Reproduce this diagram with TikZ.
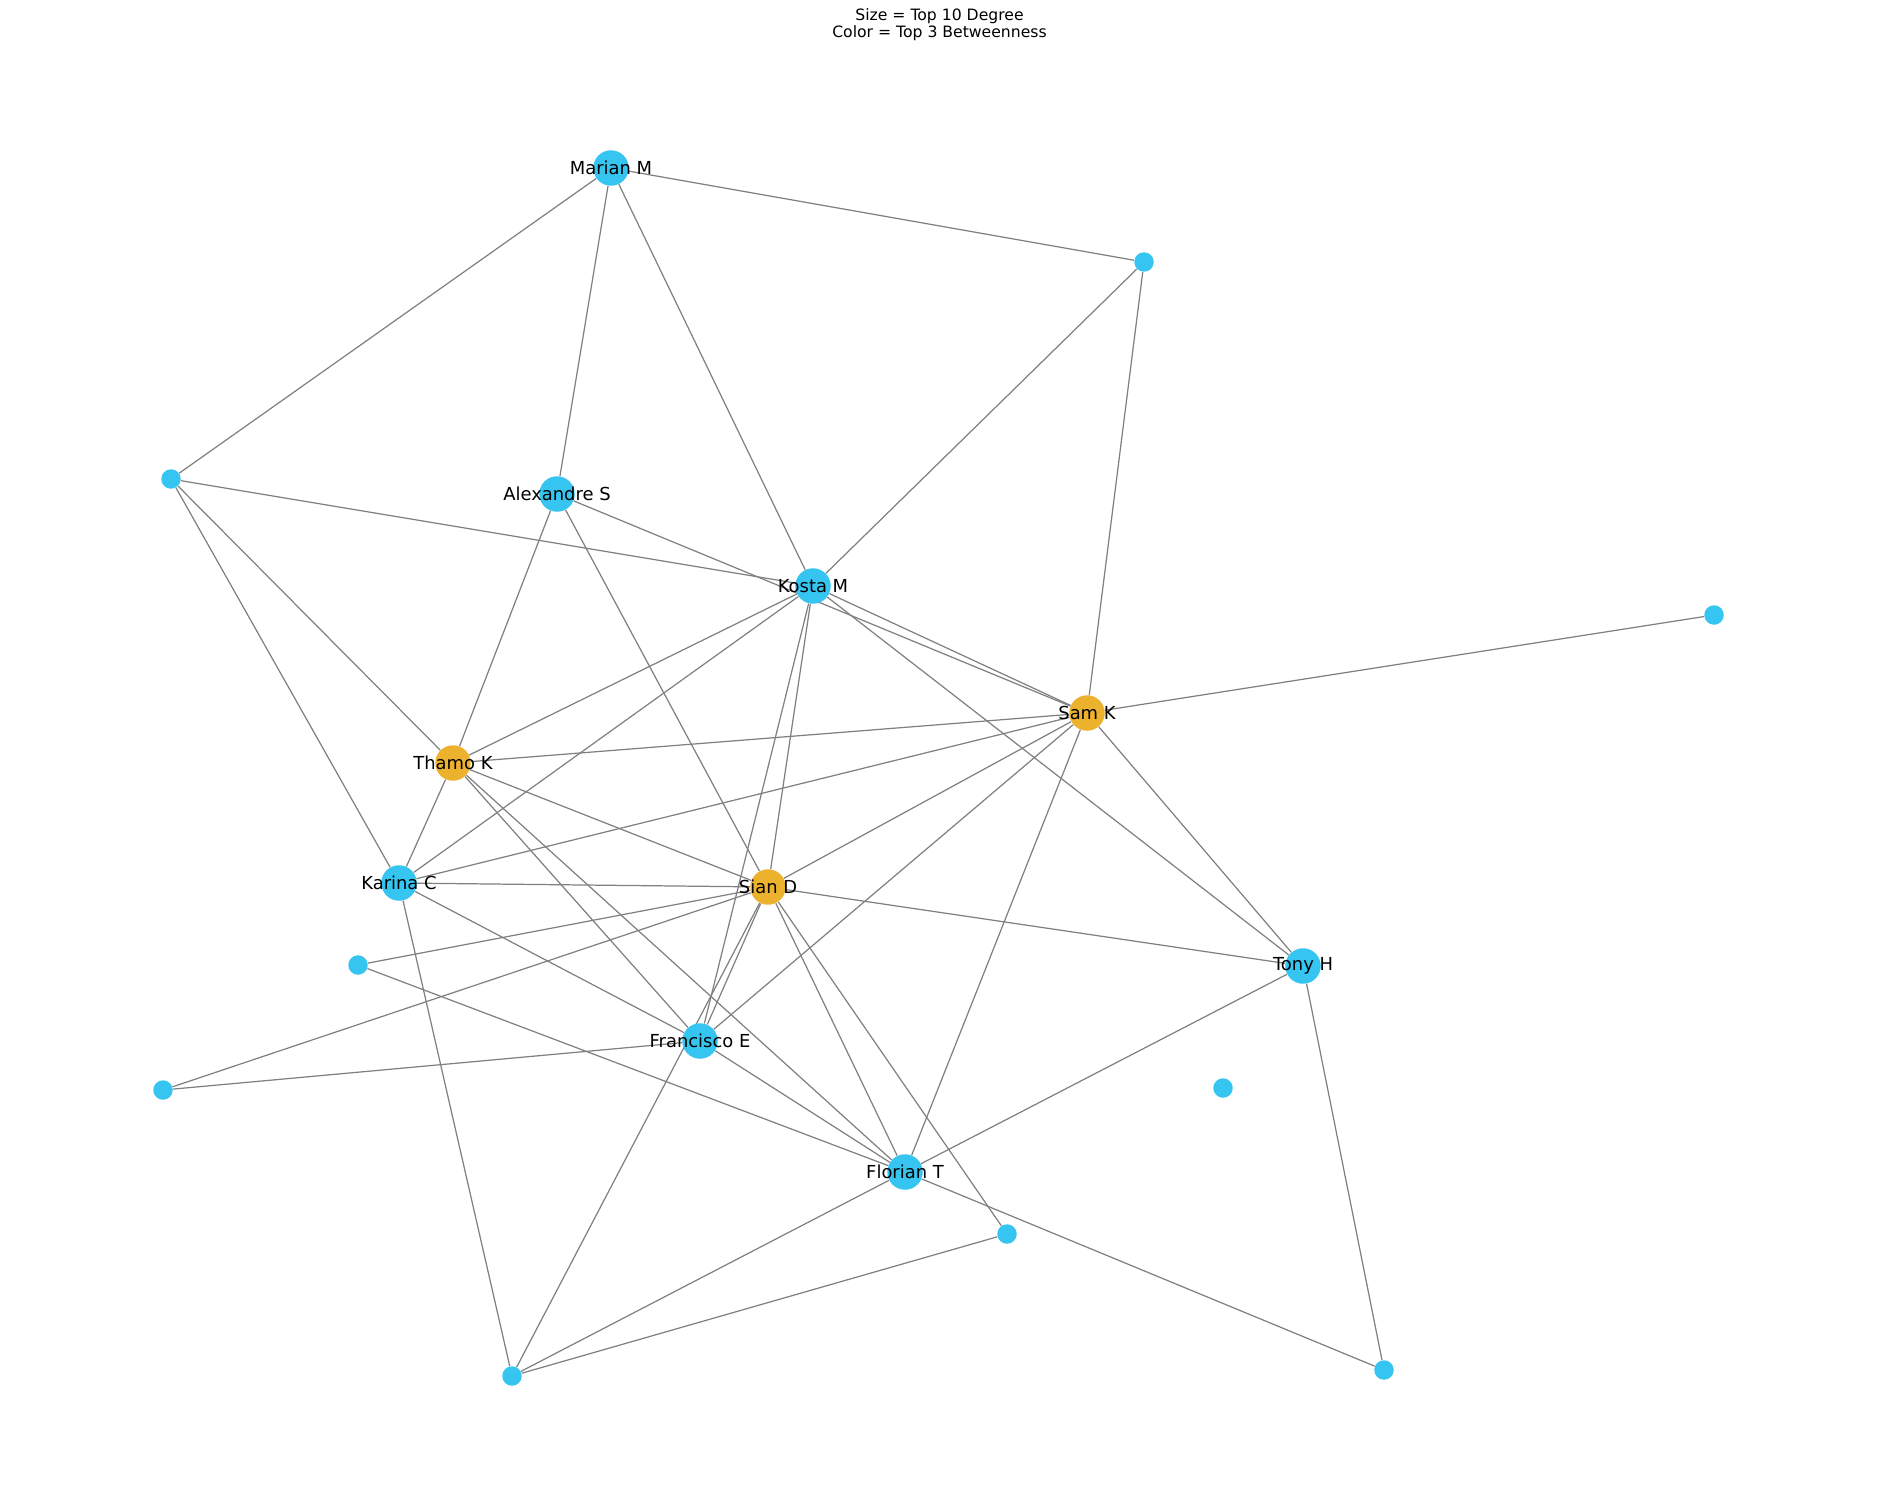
\documentclass[tikz,border=0pt]{standalone}
\usepackage{fontspec}
\setmainfont{DejaVu Sans}
\usetikzlibrary{backgrounds}

\definecolor{nblue}{HTML}{36C5F0}
\definecolor{norange}{HTML}{ECB22E}

\begin{document}
\begin{tikzpicture}[x=0.02cm,y=-0.02cm]
  \tikzstyle{N}=[circle,fill=nblue,inner sep=0pt,minimum size=0.39cm]
  \tikzstyle{B}=[circle,fill=nblue,inner sep=0pt,minimum size=0.71cm]
  \tikzstyle{E}=[draw=gray,line width=0.7pt]
  \tikzstyle{every label}=[font=\fontsize{10.2}{12}\selectfont,inner sep=0pt]
  \useasboundingbox (0,0) rectangle (1879,1507);

  \node[align=center,font=\fontsize{8.9}{9.6}\selectfont] (T) at (939.5,25)
    {Size = Top 10 Degree\\Color = Top 3 Betweenness};

  % top 10 degree
  \node[B] (MM) at (611,168) [label=center:Marian M] {};
  \node[B] (AS) at (557,494) [label=center:Alexandre S] {};
  \node[B] (KM) at (813,586) [label=center:Kosta M] {};
  \node[B,fill=norange] (SK) at (1087,713) [label=center:Sam K] {};
  \node[B,fill=norange] (TK) at (453,763) [label=center:Thamo K] {};
  \node[B] (KC) at (399,883) [label=center:Karina C] {};
  \node[B,fill=norange] (SD) at (768,887) [label=center:Sian D] {};
  \node[B] (TH) at (1303,966) [label=center:Tony H] {};
  \node[B] (FE) at (700,1041) [label=center:Francisco E] {};
  \node[B] (FT) at (905,1172) [label=center:Florian T] {};
  % the rest
  \node[N] (S1) at (1144,262) {};
  \node[N] (S2) at (171,479) {};
  \node[N] (S3) at (1714,615) {};
  \node[N] (S4) at (358,965) {};
  \node[N] (S5) at (163,1090) {};
  \node[N] (S6) at (1223,1088) {};
  \node[N] (S7) at (1007,1234) {};
  \node[N] (S8) at (512,1376) {};
  \node[N] (S9) at (1384,1370) {};

  \begin{pgfonlayer}{background}
  \draw[E] (MM) -- (S1);
  \draw[E] (MM) -- (S2);
  \draw[E] (MM) -- (AS);
  \draw[E] (MM) -- (KM);
  \draw[E] (S1) -- (KM);
  \draw[E] (S1) -- (SK);
  \draw[E] (S2) -- (KM);
  \draw[E] (S2) -- (TK);
  \draw[E] (S2) -- (KC);
  \draw[E] (AS) -- (TK);
  \draw[E] (AS) -- (SK);
  \draw[E] (AS) -- (SD);
  \draw[E] (KM) -- (SK);
  \draw[E] (KM) -- (TK);
  \draw[E] (KM) -- (KC);
  \draw[E] (KM) -- (FE);
  \draw[E] (KM) -- (SD);
  \draw[E] (KM) -- (TH);
  \draw[E] (SK) -- (S3);
  \draw[E] (SK) -- (TK);
  \draw[E] (SK) -- (KC);
  \draw[E] (SK) -- (SD);
  \draw[E] (SK) -- (FE);
  \draw[E] (SK) -- (FT);
  \draw[E] (SK) -- (TH);
  \draw[E] (TK) -- (KC);
  \draw[E] (TK) -- (SD);
  \draw[E] (TK) -- (FE);
  \draw[E] (TK) -- (FT);
  \draw[E] (KC) -- (SD);
  \draw[E] (KC) -- (FE);
  \draw[E] (KC) -- (S8);
  \draw[E] (SD) -- (S4);
  \draw[E] (SD) -- (S5);
  \draw[E] (SD) -- (TH);
  \draw[E] (SD) -- (FE);
  \draw[E] (SD) -- (S8);
  \draw[E] (SD) -- (FT);
  \draw[E] (SD) -- (S7);
  \draw[E] (FE) -- (S5);
  \draw[E] (FE) -- (FT);
  \draw[E] (S4) -- (FT);
  \draw[E] (FT) -- (TH);
  \draw[E] (FT) -- (S8);
  \draw[E] (FT) -- (S9);
  \draw[E] (S7) -- (S8);
  \draw[E] (TH) -- (S9);
  \end{pgfonlayer}
\end{tikzpicture}
\end{document}
